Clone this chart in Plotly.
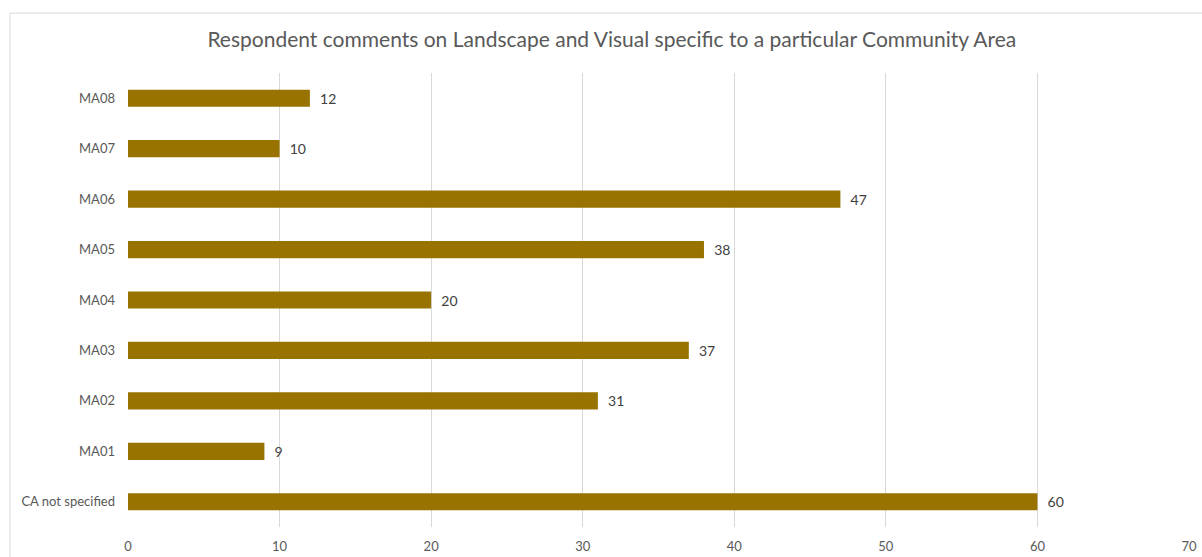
import plotly.graph_objects as go

categories = ["CA not specified", "MA01", "MA02", "MA03", "MA04", "MA05", "MA06", "MA07", "MA08"]
counts = [60, 9, 31, 37, 20, 38, 47, 10, 12]
x_ticks = [0, 10, 20, 30, 40, 50, 60, 70]

bar_color = "#987300"
text_color = "#595959"
font_family = "Lato, 'Liberation Sans', sans-serif"

fig = go.Figure(
    go.Bar(
        x=counts,
        y=categories,
        orientation="h",
        marker=dict(color=bar_color, line=dict(width=0)),
        width=0.34,
        texttemplate="\u00a0\u00a0%{x}",
        textposition="outside",
        textfont=dict(color="#404040", size=14, family=font_family),
        cliponaxis=False,
        hoverinfo="x+y",
    )
)

fig.update_layout(
    width=1202,
    height=557,
    margin=dict(l=128, r=13, t=73, b=30),
    paper_bgcolor="white",
    plot_bgcolor="white",
    font=dict(family=font_family, color=text_color, size=13),
    title=dict(
        text="Respondent comments on Landscape and Visual specific to a particular Community Area",
        x=0.509,
        xanchor="center",
        y=0.928,
        yanchor="middle",
        font=dict(size=21, color=text_color, family=font_family),
    ),
    showlegend=False,
    xaxis=dict(
        range=[0, 70],
        tickvals=x_ticks,
        showgrid=True,
        gridcolor="#d9d9d9",
        gridwidth=1,
        zeroline=False,
        showline=False,
        ticks="",
        ticklabelstandoff=10,
        tickfont=dict(size=13, color=text_color),
        automargin=False,
        fixedrange=True,
    ),
    yaxis=dict(
        categoryorder="array",
        categoryarray=categories,
        showgrid=False,
        zeroline=False,
        showline=False,
        ticks="",
        ticklabelstandoff=12,
        tickfont=dict(size=13, color=text_color),
        automargin=False,
        fixedrange=True,
    ),
    shapes=[
        dict(
            type="rect",
            xref="paper",
            yref="paper",
            x0=-0.1112,
            x1=1.05,
            y0=-0.2,
            y1=1.132,
            line=dict(color="#d9d9d9", width=1),
            fillcolor="rgba(0,0,0,0)",
            layer="below",
        )
    ],
)

fig.write_html("out.html")
